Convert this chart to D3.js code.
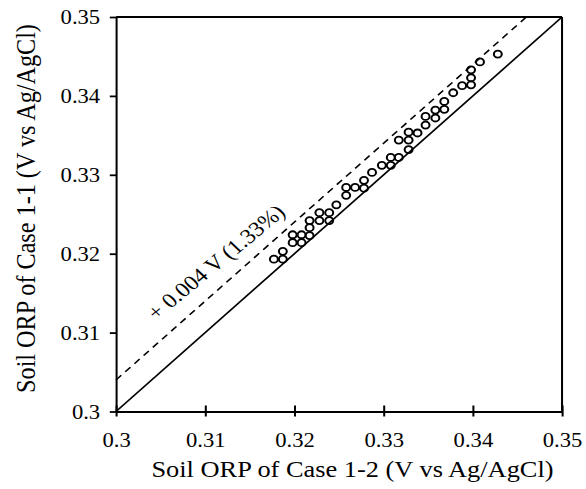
<!DOCTYPE html>
<html lang="en">

<head>
	<meta charset="utf-8">
	<title>Soil ORP Case 1-1 vs Case 1-2</title>
	<style>
		body {
			margin: 0;
			background: #fff;
		}

		svg {
			display: block;
		}

		text {
			font-family: "Liberation Serif", "Times New Roman", serif;
			fill: #000;
		}

		.axis path,
		.axis line {
			stroke: #000;
			stroke-width: 1.8;
		}

		.pt {
			fill: none;
			stroke: #000;
			stroke-width: 1.8;
		}
	</style>
</head>

<body>
	<svg id="chart"></svg>

	<script src="https://d3js.org/d3.v7.min.js"></script>
	<script>
		// Case 1-2 (x) and Case 1-1 (y), V vs Ag/AgCl
		var case12 = [0.3177, 0.3187, 0.3187, 0.3198, 0.3198, 0.3208, 0.3208, 0.3217, 0.3217, 0.3217,
			0.3228, 0.3228, 0.3239, 0.3239, 0.3247, 0.3258, 0.3258, 0.3268, 0.3278, 0.3278,
			0.3287, 0.3298, 0.3308, 0.3308, 0.3317, 0.3317, 0.3328, 0.3328, 0.3328, 0.3338,
			0.3347, 0.3347, 0.3358, 0.3358, 0.3368, 0.3368, 0.3378, 0.3388, 0.3398, 0.3398,
			0.3398, 0.3408, 0.3428];
		var case11 = [0.3193, 0.3203, 0.3193, 0.3224, 0.3214, 0.3224, 0.3214, 0.3242, 0.3233, 0.3223,
			0.3252, 0.3242, 0.3252, 0.3242, 0.3262, 0.3284, 0.3274, 0.3284, 0.3293, 0.3283,
			0.3303, 0.3312, 0.3322, 0.3312, 0.3322, 0.3344, 0.3354, 0.3344, 0.3332, 0.3353,
			0.3374, 0.3363, 0.3382, 0.3372, 0.3393, 0.3383, 0.3404, 0.3413, 0.3433, 0.3423,
			0.3414, 0.3443, 0.3453];

		var tickValues = [0.3, 0.31, 0.32, 0.33, 0.34, 0.35];
		var tickLabels = ["0.3", "0.31", "0.32", "0.33", "0.34", "0.35"];

		var oneToOne = [[0.3, 0.3], [0.35, 0.35]];
		var offsetLine = [[0.3, 0.304], [0.346, 0.35]];

		var xTitle = "Soil ORP of Case 1-2 (V vs Ag/AgCl)";
		var yTitle = "Soil ORP of Case 1-1 (V vs Ag/AgCl)";
		var note = "+ 0.004 V (1.33%)";

		// the source picture is a square chart stretched sideways,
		// so draw square and let the viewBox stretch it
		var stretch = 1.132;
		var W = 586, H = 489;
		var iw = W / stretch;

		var svg = d3.select("#chart")
			.attr("width", W)
			.attr("height", H)
			.attr("viewBox", "0 0 " + iw + " " + H)
			.attr("preserveAspectRatio", "none");

		var plotL = 102.5, plotR = 496.5, plotT = 17, plotB = 411.5;

		var x = d3.scaleLinear().domain([0.3, 0.35]).range([plotL, plotR]);
		var y = d3.scaleLinear().domain([0.3, 0.35]).range([plotB, plotT]);

		// box
		svg.append("line")
			.attr("x1", x(0.3)).attr("x2", x(0.35))
			.attr("y1", y(0.35)).attr("y2", y(0.35))
			.style("stroke", "#000").style("stroke-width", 1.8);
		svg.append("line")
			.attr("x1", x(0.35)).attr("x2", x(0.35))
			.attr("y1", y(0.35)).attr("y2", y(0.3))
			.style("stroke", "#000").style("stroke-width", 1.8);

		var xAxis = d3.axisBottom(x)
			.tickValues(tickValues)
			.tickSizeOuter(0)
			.tickFormat(function(d, i) {
				return tickLabels[i];
			});

		var gx = svg.append("g")
			.attr("class", "axis")
			.attr("transform", "translate(0," + plotB + ")")
			.call(xAxis);
		gx.selectAll(".tick line").attr("y1", -6).attr("y2", 5);
		gx.selectAll(".tick text")
			.attr("y", 35.5)
			.attr("dy", 0)
			.style("font-size", "20px");

		var yAxis = d3.axisLeft(y)
			.tickValues(tickValues)
			.tickSizeOuter(0)
			.tickSizeInner(5.5)
			.tickFormat(function(d, i) {
				return tickLabels[i];
			});

		var gy = svg.append("g")
			.attr("class", "axis")
			.attr("transform", "translate(" + plotL + ",0)")
			.call(yAxis);
		gy.selectAll(".tick text")
			.attr("x", -14)
			.attr("dy", "0.33em")
			.style("font-size", "20px");

		svg.selectAll(".axis text").style("font-family", "'Liberation Serif', 'Times New Roman', serif");

		// reference lines
		var line = d3.line()
			.x(function(d) { return x(d[0]); })
			.y(function(d) { return y(d[1]); });

		svg.append("path")
			.datum(oneToOne)
			.attr("d", line)
			.style("fill", "none")
			.style("stroke", "#000")
			.style("stroke-width", 1.6);

		svg.append("path")
			.datum(offsetLine)
			.attr("d", line)
			.style("fill", "none")
			.style("stroke", "#000")
			.style("stroke-width", 1.5)
			.style("stroke-dasharray", "6.5,5");

		// points
		svg.selectAll(".pt")
			.data(case12)
			.enter().append("circle")
			.attr("class", "pt")
			.attr("cx", function(d) { return x(d); })
			.attr("cy", function(d, i) { return y(case11[i]); })
			.attr("r", 3.5);

		// annotation
		svg.append("text")
			.attr("transform", "translate(191.3,262.7) rotate(-43)")
			.attr("text-anchor", "middle")
			.attr("dy", "0.3em")
			.style("font-size", "21px")
			.text(note);

		// titles
		svg.append("text")
			.attr("x", 311.4)
			.attr("y", 477)
			.attr("text-anchor", "middle")
			.style("font-size", "23.3px")
			.text(xTitle);

		svg.append("text")
			.attr("transform", "translate(31," + 208.5 + ") rotate(-90)")
			.attr("text-anchor", "middle")
			.style("font-size", "24.2px")
			.text(yTitle);
	</script>
</body>

</html>
